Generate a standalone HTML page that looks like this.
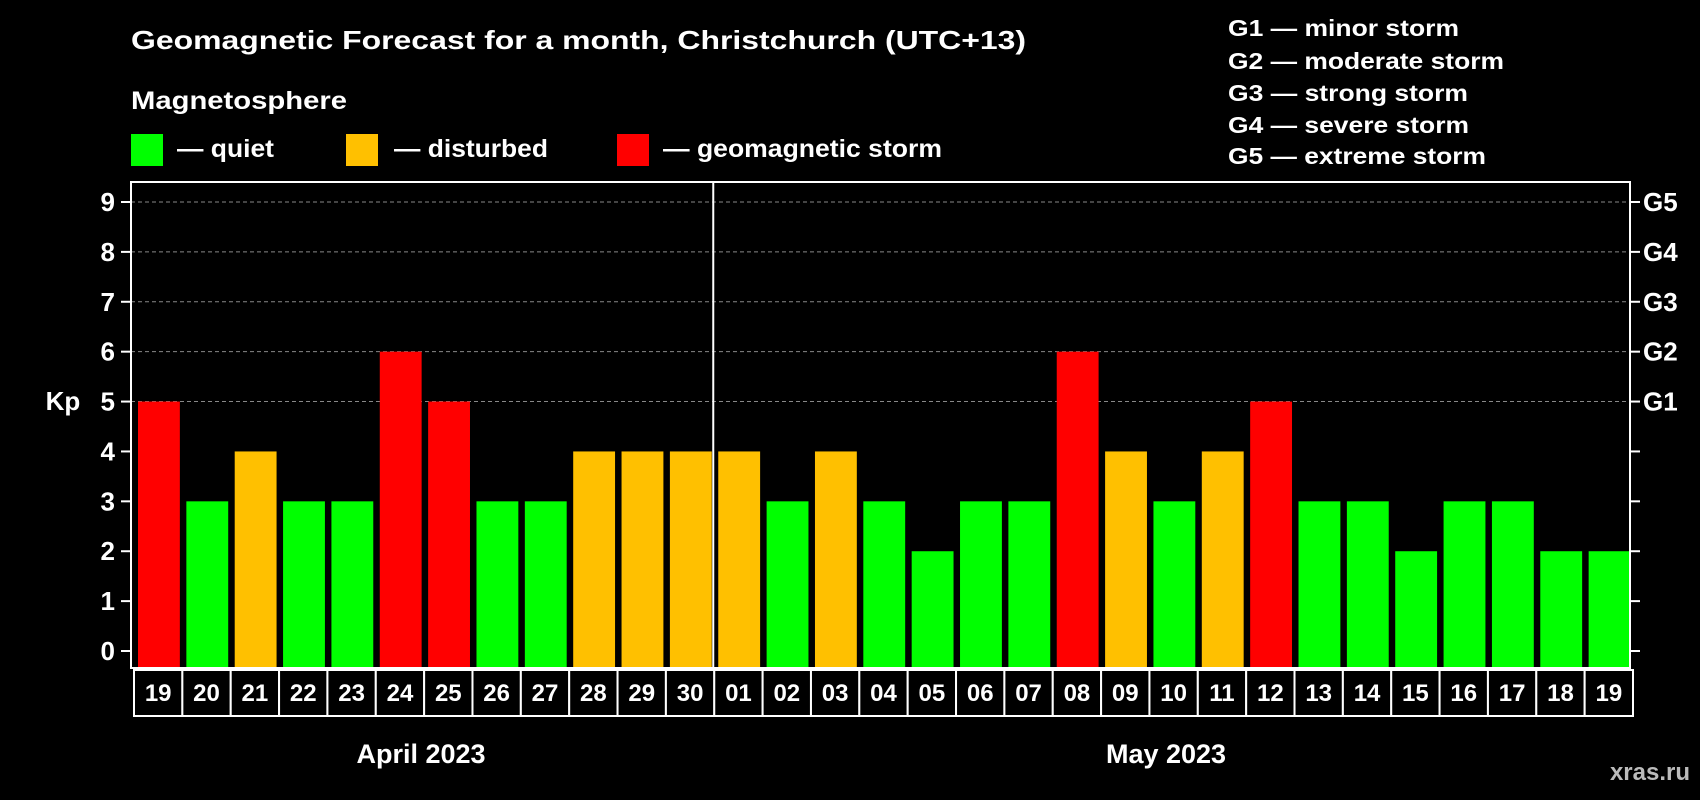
<!DOCTYPE html>
<html><head><meta charset="utf-8"><style>
html,body{margin:0;padding:0;background:#000;}
svg{display:block;font-family:"Liberation Sans",Arial,sans-serif;font-weight:bold;}
</style></head><body>
<svg id="chart" width="1700" height="800" viewBox="0 0 1700 800" xmlns="http://www.w3.org/2000/svg">
<rect x="0" y="0" width="1700" height="800" fill="#000"/>
<text x="131" y="49" fill="#fff" font-size="26" textLength="895" lengthAdjust="spacingAndGlyphs">Geomagnetic Forecast for a month, Christchurch (UTC+13)</text>
<text x="131" y="109" fill="#fff" font-size="25" textLength="216" lengthAdjust="spacingAndGlyphs">Magnetosphere</text>
<g>
<rect x="131" y="134" width="32" height="32" fill="#00ff00"/>
<text x="177" y="157" fill="#fff" font-size="25" textLength="97" lengthAdjust="spacingAndGlyphs">— quiet</text></g>
<g>
<rect x="346" y="134" width="32" height="32" fill="#ffc000"/>
<text x="394" y="157" fill="#fff" font-size="25" textLength="154" lengthAdjust="spacingAndGlyphs">— disturbed</text></g>
<g>
<rect x="617" y="134" width="32" height="32" fill="#ff0000"/>
<text x="663" y="157" fill="#fff" font-size="25" textLength="279" lengthAdjust="spacingAndGlyphs">— geomagnetic storm</text></g>
<g fill="#fff" font-size="23">
<text x="1228" y="36" textLength="231" lengthAdjust="spacingAndGlyphs">G1 — minor storm</text>
<text x="1228" y="69" textLength="276" lengthAdjust="spacingAndGlyphs">G2 — moderate storm</text>
<text x="1228" y="101" textLength="240" lengthAdjust="spacingAndGlyphs">G3 — strong storm</text>
<text x="1228" y="133" textLength="241" lengthAdjust="spacingAndGlyphs">G4 — severe storm</text>
<text x="1228" y="164" textLength="258" lengthAdjust="spacingAndGlyphs">G5 — extreme storm</text>
</g>
<g id="grid"></g>
<g id="bars"></g>
<g id="axes"></g>
<text x="63" y="410" fill="#fff" font-size="26" text-anchor="middle">Kp</text>
<text x="421" y="763" fill="#fff" font-size="27" text-anchor="middle">April 2023</text>
<text x="1166" y="763" fill="#fff" font-size="27" text-anchor="middle">May 2023</text>
<text x="1690" y="780" fill="#bbbbbb" font-size="24" text-anchor="end">xras.ru</text>
</svg>
<script>
const days = ["19","20","21","22","23","24","25","26","27","28","29","30","01","02","03","04","05","06","07","08","09","10","11","12","13","14","15","16","17","18","19"];
const kpValues = [5,3,4,3,3,6,5,3,3,4,4,4,4,3,4,3,2,3,3,6,4,3,4,5,3,3,2,3,3,2,2];
const yTicks = [0,1,2,3,4,5,6,7,8,9];
const gLabels = ["","","","","","G1","G2","G3","G4","G5"];
const monthBreakIndex = 12;

const NS = "http://www.w3.org/2000/svg";
const L = 131, R = 1630, T = 182, B = 668;
const Y0 = 651, Y9 = 202;
const pitch = (R - L) / days.length;
function yScale(v){ return Y0 - (Y0 - Y9) * v / 9; }
function xScale(i){ return L + i * pitch; }
function mk(tag, attrs, parent){ const e = document.createElementNS(NS, tag); for (const k in attrs) e.setAttribute(k, attrs[k]); parent.appendChild(e); return e; }
function color(v){ return v >= 5 ? "#ff0000" : (v >= 4 ? "#ffc000" : "#00ff00"); }

const grid = document.getElementById("grid"), bars = document.getElementById("bars"), axes = document.getElementById("axes");
yTicks.forEach(t => {
  if (t >= 5) {
    const g = mk("line", {x1:L, x2:R, y1:yScale(t), y2:yScale(t), stroke:"#888", "stroke-width":1, "stroke-dasharray":"4,3"}, grid);
    
    
  }
  const tl = mk("line", {x1:L-10, x2:L, y1:yScale(t), y2:yScale(t), stroke:"#fff", "stroke-width":2}, axes);
  
  
  const tr = mk("line", {x1:R, x2:R+10, y1:yScale(t), y2:yScale(t), stroke:"#fff", "stroke-width":2}, axes);
  
  
  const lb = mk("text", {x:L-16, y:yScale(t)+9, fill:"#fff", "font-size":26, "text-anchor":"end"}, axes);
  lb.textContent = t;
  
  
  if (gLabels[t]) {
    const gl = mk("text", {x:R+13, y:yScale(t)+9, fill:"#fff", "font-size":26}, axes);
    gl.textContent = gLabels[t];
    
    
  }
});
kpValues.forEach((v, i) => {
  const r = mk("rect", {x:xScale(i)+7, y:yScale(v), width:pitch-6.5, height:B-yScale(v)-1, fill:color(v)}, bars);
  
  
});
days.forEach((d, i) => {
  const c = mk("rect", {x:xScale(i)+3, y:B+2, width:pitch, height:46, fill:"#000", stroke:"#fff", "stroke-width":2}, axes);
  
  
  const t = mk("text", {x:xScale(i)+3+pitch/2, y:B+33, fill:"#fff", "font-size":24, "text-anchor":"middle"}, axes);
  t.textContent = d;
  
  
});
const div = mk("line", {x1:xScale(monthBreakIndex)+2, x2:xScale(monthBreakIndex)+2, y1:T, y2:B, stroke:"#fff", "stroke-width":2}, axes);


const fr = mk("rect", {x:L, y:T, width:R-L, height:B-T, fill:"none", stroke:"#fff", "stroke-width":2}, axes);


</script>
</body></html>
